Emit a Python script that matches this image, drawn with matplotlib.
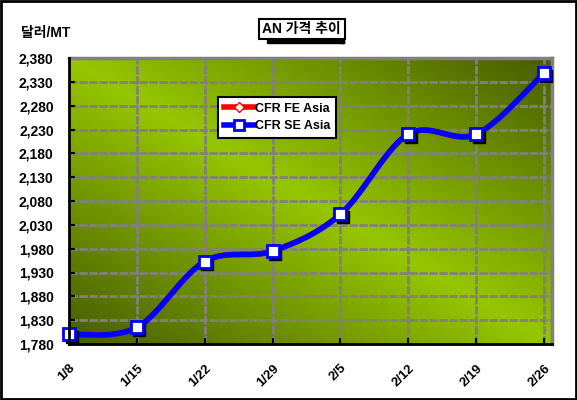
import matplotlib
matplotlib.use('Agg')
import matplotlib.pyplot as plt
import matplotlib.transforms as mtransforms
from matplotlib.lines import Line2D
from matplotlib.patches import Rectangle
import numpy as np

plt.rcParams['font.family'] = ['Liberation Sans', 'Noto Sans CJK KR', 'DejaVu Sans']
plt.rcParams['font.weight'] = 'bold'

# 데이터
dates = ['1/8', '1/15', '1/22', '1/29', '2/5', '2/12', '2/19', '2/26']
fe_asia = [1800, 1815, 1953, 1975, 2052, 2220, 2220, 2348]
se_asia = [1800, 1815, 1953, 1975, 2052, 2220, 2220, 2348]
yticks = np.arange(1780, 2381, 50)


def smooth(x, y, n=30):
    # Excel 스타일 곡선 (Catmull-Rom)
    x = np.asarray(x, float)
    y = np.asarray(y, float)
    px = np.concatenate([[x[0]], x, [x[-1]]])
    py = np.concatenate([[y[0]], y, [y[-1]]])
    xs, ys = [], []
    t = np.linspace(0, 1, n)
    for i in range(1, len(px) - 2):
        for p, out in ((px, xs), (py, ys)):
            p0, p1, p2, p3 = p[i - 1], p[i], p[i + 1], p[i + 2]
            c1 = p1 + (p2 - p0) / 6
            c2 = p2 - (p3 - p1) / 6
            out.extend((1 - t) ** 3 * p1 + 3 * (1 - t) ** 2 * t * c1 + 3 * (1 - t) * t ** 2 * c2 + t ** 3 * p2)
    return np.array(xs), np.array(ys)


fig = plt.figure(figsize=(5.77, 4.0), dpi=100)
ax = fig.add_axes([69 / 577, 1 - 344 / 400, 483 / 577, 286 / 400])

x = np.arange(len(dates))
ax.set_xlim(0, 7.12)
ax.set_ylim(1780, 2380)

# 배경 그라데이션 (왼쪽 위/오른쪽 아래 밝고, 나머지 어두움)
gx, gy = np.meshgrid(np.linspace(0, 1, 300), np.linspace(0, 1, 200))
tt = np.abs(gx - gy)
bright = np.array([150, 198, 0]) / 255
dark = np.array([70, 92, 0]) / 255
img = bright[None, None, :] + (dark - bright)[None, None, :] * tt[:, :, None]
ax.imshow(img, extent=[0, 7.12, 1780, 2380], aspect='auto', zorder=0, interpolation='bilinear')

# 격자
for v in yticks[1:]:
    ax.axhline(v, color='#808080', lw=2, ls=(0, (3, 0.6)), zorder=1)
for v in x[1:]:
    ax.axvline(v, color='#808080', lw=2, ls=(0, (3, 0.6)), zorder=1)
ax.axvline(7.12, color='#808080', lw=2.5, zorder=1)

sx, sy = smooth(x, fe_asia)
ax.plot(sx, sy, color='red', lw=4, zorder=3, solid_capstyle='round')
sx, sy = smooth(x, se_asia)
ax.plot(sx, sy, color='#0000ff', lw=4, zorder=4, solid_capstyle='round')

shadow = mtransforms.offset_copy(ax.transData, fig=fig, x=2.5, y=-2.5, units='dots')
ax.plot(x, se_asia, ls='none', marker='s', ms=8, color='black', transform=shadow, zorder=5, clip_on=False)
ax.plot(x, fe_asia, ls='none', marker='D', ms=6, mfc='white', mec='red', mew=1.5, zorder=5, clip_on=False)
ax.plot(x, se_asia, ls='none', marker='s', ms=8, mfc='white', mec='#0000ff', mew=2, zorder=6, clip_on=False)

ax.set_yticks(yticks)
ax.set_yticklabels(['{:,}'.format(v) for v in yticks], fontsize=10, fontweight='bold')
ax.set_xticks(x)
ax.set_xticklabels(dates, fontsize=9.5, fontweight='bold', rotation=45, ha='right', va='top', rotation_mode='anchor')
ax.tick_params(axis='y', direction='in', length=4, width=1.5, pad=11)
ax.tick_params(axis='x', direction='in', length=4, width=1.5, pad=13)

for s in ['top', 'right']:
    ax.spines[s].set_color('#808080')
    ax.spines[s].set_linewidth(2.5)
for s in ['left', 'bottom']:
    ax.spines[s].set_color('black')
    ax.spines[s].set_linewidth(2)
    ax.spines[s].set_zorder(7)

handles = [
    Line2D([], [], color='red', lw=4, marker='D', ms=5, mfc='white', mec='red'),
    Line2D([], [], color='#0000ff', lw=4, marker='s', ms=7, mfc='white', mec='#0000ff', mew=2),
]
leg = ax.legend(handles, ['CFR FE Asia', 'CFR SE Asia'], loc='upper left',
                bbox_to_anchor=(218 / 577, 1 - 97 / 400), bbox_transform=fig.transFigure,
                borderaxespad=0, fancybox=False, framealpha=1, edgecolor='black',
                prop={'size': 9, 'weight': 'bold'}, handlelength=2.4, handletextpad=0.1,
                labelspacing=0.45, borderpad=0.45)
leg.get_frame().set_linewidth(1.5)
leg.set_zorder(10)

# 제목 상자
fig.text(0.523, 1 - 29 / 400, 'AN 가격 추이', ha='center', va='center', fontsize=10, fontweight='bold',
         bbox=dict(boxstyle='square,pad=0.25', fc='white', ec='black', lw=1.5))
fig.patches.append(Rectangle((267 / 577, 1 - 43 / 400), 77 / 577, 3 / 400, transform=fig.transFigure,
                             color='black', zorder=-1))
fig.patches.append(Rectangle((341 / 577, 1 - 43 / 400), 3 / 577, 22 / 400, transform=fig.transFigure,
                             color='black', zorder=-1))
fig.text(21 / 577, 1 - 33 / 400, '달러/MT', ha='left', va='center', fontsize=10, fontweight='bold')

fig.patches.append(Rectangle((0.002, 0.003), 0.996, 0.994, transform=fig.transFigure,
                             fill=False, ec='black', lw=2))

fig.savefig('out.png', dpi=100)
